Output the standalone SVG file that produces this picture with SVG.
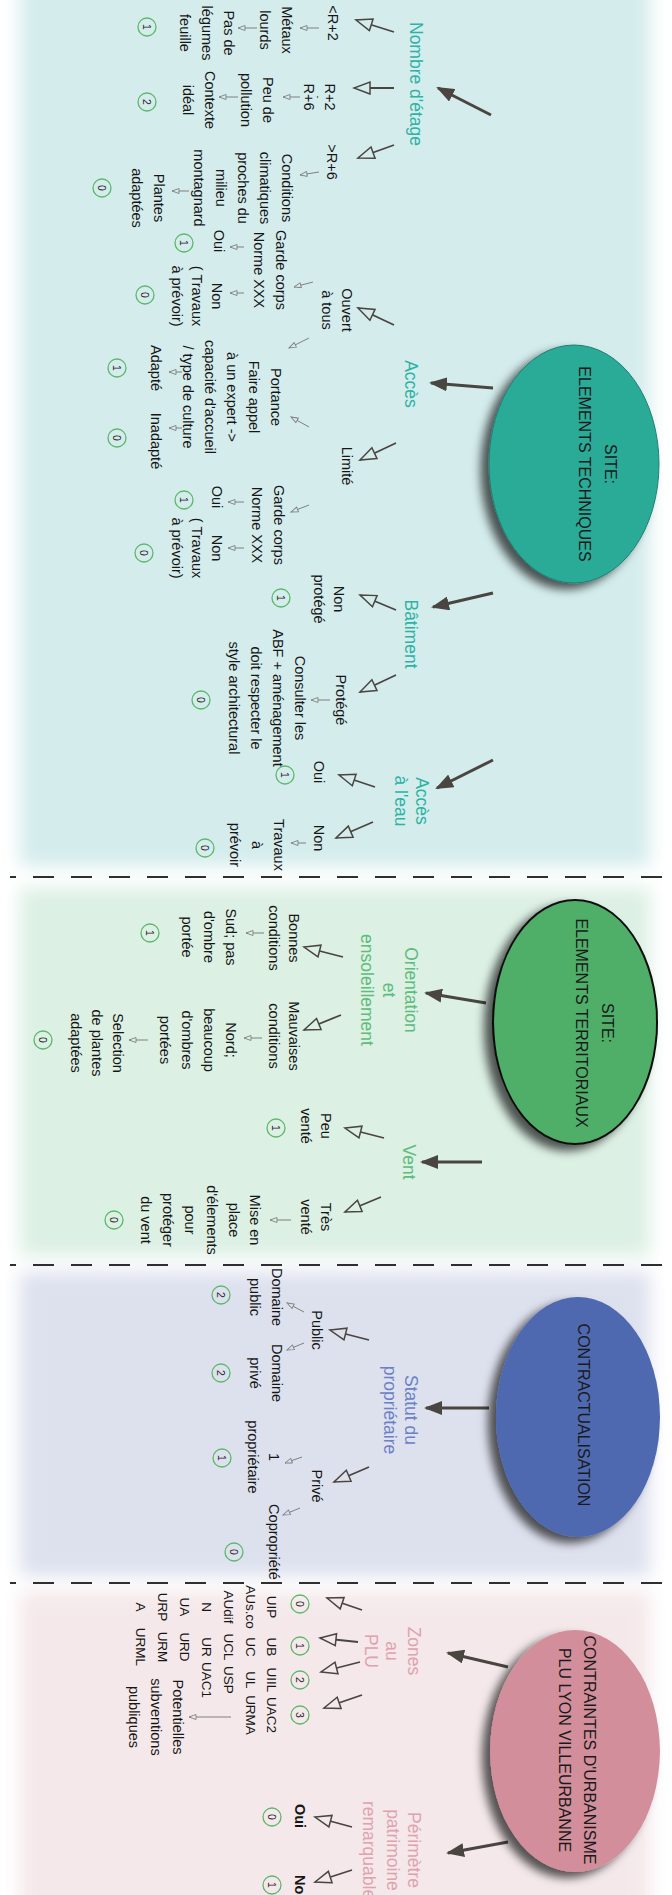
<svg xmlns="http://www.w3.org/2000/svg" width="672" height="1895" viewBox="0 0 672 1895">
<defs>
<style>
text{font-family:"Liberation Sans",Arial,sans-serif;text-anchor:middle}
.t{font-family:"Liberation Sans Narrow","Liberation Sans",Arial,sans-serif;font-size:14.5px;fill:#161616}
.z{font-family:"Liberation Sans Narrow","Liberation Sans",Arial,sans-serif;font-size:13.5px;fill:#161616}
.cat{font-size:17.5px}
.ct{fill:#2db3a4}.cg{fill:#5dbd7c}.cb{fill:#6c80c6}.cp{fill:#e0a2ae}
.el{font-size:16px;fill:#1a1a1a}
.num{font-size:10.5px;fill:#1e1e1e}
.sc{fill:none;stroke:#5cb86a;stroke-width:1.3}
.big{stroke:#4a4540;stroke-width:3;fill:none;marker-end:url(#mb)}
.hol{stroke:#4a4540;stroke-width:1.8;fill:none}
.sm{stroke:#808080;stroke-width:1;fill:none}
.dash{stroke:#2f2f2f;stroke-width:2;stroke-dasharray:21 17}
</style>
<filter id="soft" x="-10%" y="-10%" width="120%" height="120%"><feGaussianBlur stdDeviation="9"/></filter>
<filter id="sh" x="-20%" y="-20%" width="150%" height="150%"><feGaussianBlur in="SourceAlpha" stdDeviation="5"/><feOffset dx="6" dy="8" result="b"/><feFlood flood-color="#000" flood-opacity="0.65"/><feComposite in2="b" operator="in"/><feMerge><feMergeNode/><feMergeNode in="SourceGraphic"/></feMerge></filter>
<marker id="mb" viewBox="0 0 18 14" refX="16" refY="7" markerWidth="18" markerHeight="14" markerUnits="userSpaceOnUse" orient="auto"><path d="M0,0 L18,7 L0,14 z" fill="#4a4540"/></marker>
<marker id="hT" viewBox="-2 -2 20 16" refX="16" refY="6" markerWidth="20" markerHeight="16" markerUnits="userSpaceOnUse" orient="auto"><path d="M0,0 L16,6 L0,12 z" fill="#d4ecec" stroke="#4a4540" stroke-width="1.5"/></marker>
<marker id="hG" viewBox="-2 -2 20 16" refX="16" refY="6" markerWidth="20" markerHeight="16" markerUnits="userSpaceOnUse" orient="auto"><path d="M0,0 L16,6 L0,12 z" fill="#dcf0e4" stroke="#4a4540" stroke-width="1.5"/></marker>
<marker id="hB" viewBox="-2 -2 20 16" refX="16" refY="6" markerWidth="20" markerHeight="16" markerUnits="userSpaceOnUse" orient="auto"><path d="M0,0 L16,6 L0,12 z" fill="#dde1ee" stroke="#4a4540" stroke-width="1.5"/></marker>
<marker id="hP" viewBox="-2 -2 20 16" refX="16" refY="6" markerWidth="20" markerHeight="16" markerUnits="userSpaceOnUse" orient="auto"><path d="M0,0 L16,6 L0,12 z" fill="#f4e8ea" stroke="#4a4540" stroke-width="1.5"/></marker>
<marker id="sT" viewBox="-1 -1 9 7" refX="7" refY="2.5" markerWidth="9" markerHeight="7" markerUnits="userSpaceOnUse" orient="auto"><path d="M0,0 L7,2.5 L0,5 z" fill="#d4ecec" stroke="#808080" stroke-width="0.9"/></marker>
<marker id="sG" viewBox="-1 -1 9 7" refX="7" refY="2.5" markerWidth="9" markerHeight="7" markerUnits="userSpaceOnUse" orient="auto"><path d="M0,0 L7,2.5 L0,5 z" fill="#dcf0e4" stroke="#808080" stroke-width="0.9"/></marker>
<marker id="sB" viewBox="-1 -1 9 7" refX="7" refY="2.5" markerWidth="9" markerHeight="7" markerUnits="userSpaceOnUse" orient="auto"><path d="M0,0 L7,2.5 L0,5 z" fill="#dde1ee" stroke="#808080" stroke-width="0.9"/></marker>
<marker id="sP" viewBox="-1 -1 9 7" refX="7" refY="2.5" markerWidth="9" markerHeight="7" markerUnits="userSpaceOnUse" orient="auto"><path d="M0,0 L7,2.5 L0,5 z" fill="#f4e8ea" stroke="#808080" stroke-width="0.9"/></marker>
</defs>
<rect width="672" height="1895" fill="#ffffff"/>
<g transform="translate(672,0) rotate(90)">
<g id="backgrounds">
<rect x="-30" y="22" width="896" height="630" fill="#d4ecec" filter="url(#soft)"/>
<rect x="888" y="22" width="368" height="630" fill="#dcf0e4" filter="url(#soft)"/>
<rect x="1272" y="22" width="304" height="630" fill="#dde1ee" filter="url(#soft)"/>
<rect x="1592" y="22" width="330" height="630" fill="#f4e8ea" filter="url(#soft)"/>
<line class="dash" x1="877" y1="10" x2="877" y2="662"/>
<line class="dash" x1="1265" y1="10" x2="1265" y2="662"/>
<line class="dash" x1="1583" y1="10" x2="1583" y2="662"/>
</g>

<g id="connectors">
<line class="big" x1="115" y1="181" x2="88" y2="234"/>
<line class="big" x1="388" y1="179" x2="383" y2="241"/>
<line class="big" x1="593" y1="179" x2="607" y2="239"/>
<line class="big" x1="760" y1="179" x2="788" y2="235"/>
<line class="big" x1="1003" y1="186" x2="993" y2="246"/>
<line class="big" x1="1162" y1="190" x2="1162" y2="250"/>
<line class="big" x1="1408" y1="183" x2="1408" y2="246"/>
<line class="big" x1="1667" y1="164" x2="1653" y2="224"/>
<line class="big" x1="1842" y1="164" x2="1853" y2="224"/>

<g marker-end="url(#hT)" class="hol">
<line x1="32" y1="278" x2="20" y2="316"/>
<line x1="88" y1="278" x2="88" y2="318"/>
<line x1="145" y1="278" x2="158" y2="314"/>
<line x1="325" y1="278" x2="308" y2="314"/>
<line x1="443" y1="276" x2="460" y2="312"/>
<line x1="610" y1="276" x2="595" y2="312"/>
<line x1="675" y1="276" x2="692" y2="312"/>
<line x1="787" y1="297" x2="775" y2="333"/>
<line x1="822" y1="299" x2="838" y2="336"/>
</g>
<g marker-end="url(#hG)" class="hol">
<line x1="957" y1="329" x2="947" y2="368"/>
<line x1="1015" y1="331" x2="1030" y2="368"/>
<line x1="1138" y1="288" x2="1128" y2="327"/>
<line x1="1197" y1="291" x2="1212" y2="327"/>
</g>
<g marker-end="url(#hB)" class="hol">
<line x1="1340" y1="303" x2="1330" y2="342"/>
<line x1="1467" y1="303" x2="1482" y2="338"/>
</g>
<g marker-end="url(#hP)" class="hol">
<line x1="1610" y1="310" x2="1598" y2="345"/>
<line x1="1642" y1="314" x2="1638" y2="352"/>
<line x1="1662" y1="312" x2="1672" y2="351"/>
<line x1="1695" y1="310" x2="1708" y2="348"/>
<line x1="1827" y1="320" x2="1817" y2="357"/>
<line x1="1870" y1="320" x2="1882" y2="357"/>
</g>

<g marker-end="url(#sT)" class="sm">
<line x1="28" y1="353" x2="28" y2="372"/>
<line x1="28" y1="415" x2="28" y2="434"/>
<line x1="97" y1="372" x2="97" y2="389"/>
<line x1="97" y1="434" x2="97" y2="453"/>
<line x1="172" y1="353" x2="175" y2="372"/>
<line x1="191" y1="483" x2="191" y2="500"/>
<line x1="282" y1="359" x2="287" y2="378"/>
<line x1="338" y1="363" x2="348" y2="383"/>
<line x1="427" y1="363" x2="417" y2="381"/>
<line x1="247" y1="428" x2="247" y2="442"/>
<line x1="293" y1="428" x2="293" y2="442"/>
<line x1="372" y1="490" x2="372" y2="503"/>
<line x1="428" y1="490" x2="428" y2="503"/>
<line x1="505" y1="363" x2="512" y2="381"/>
<line x1="502" y1="428" x2="502" y2="444"/>
<line x1="548" y1="428" x2="548" y2="444"/>
<line x1="700" y1="342" x2="700" y2="361"/>
<line x1="843" y1="366" x2="843" y2="381"/>
</g>
<g marker-end="url(#sG)" class="sm">
<line x1="933" y1="408" x2="933" y2="426"/>
<line x1="1038" y1="410" x2="1038" y2="428"/>
<line x1="1040" y1="524" x2="1040" y2="543"/>
<line x1="1220" y1="381" x2="1220" y2="402"/>
</g>
<g marker-end="url(#sB)" class="sm">
<line x1="1312" y1="368" x2="1303" y2="385"/>
<line x1="1343" y1="368" x2="1350" y2="385"/>
<line x1="1457" y1="370" x2="1463" y2="387"/>
<line x1="1508" y1="372" x2="1515" y2="389"/>
</g>
<g marker-end="url(#sP)" class="sm">
<line x1="1717" y1="441" x2="1717" y2="483"/>
</g>
</g>

<!-- Section 1 -->
<g id="n-site-tech"><ellipse cx="464" cy="98" rx="119" ry="85" fill="#2aab97" stroke="#1f7f70" stroke-width="1" filter="url(#sh)"/>
<text class="el"><tspan x="464" y="67">SITE:</tspan><tspan x="464" y="93">ELEMENTS TECHNIQUES</tspan></text></g>
<g id="n-nombre"><text class="cat ct" x="84" y="262">Nombre d'étage</text></g>
<g id="n-lt2"><text class="t" x="23" y="344">&lt;R+2</text></g>
<g id="n-r2r6"><text class="t"><tspan x="97" y="347">R+2</tspan><tspan x="97" y="357" style="font-size:9px">-</tspan><tspan x="97" y="368">R+6</tspan></text></g>
<g id="n-gt6"><text class="t" x="162" y="345">&gt;R+6</text></g>
<g id="n-metaux"><text class="t"><tspan x="30" y="390">Métaux</tspan><tspan x="30" y="412">lourds</tspan></text></g>
<g id="n-pasde"><text class="t"><tspan x="33" y="448">Pas de</tspan><tspan x="33" y="470">légumes</tspan><tspan x="33" y="492">feuille</tspan></text></g>
<g id="s-1a"><circle class="sc" cx="27" cy="525" r="9"/><text class="num" x="27" y="528.7">1</text></g>
<g id="n-peu"><text class="t"><tspan x="100" y="409">Peu de</tspan><tspan x="100" y="431">pollution</tspan></text></g>
<g id="n-contexte"><text class="t"><tspan x="100" y="467">Contexte</tspan><tspan x="100" y="489">idéal</tspan></text></g>
<g id="s-1b"><circle class="sc" cx="102" cy="525" r="9"/><text class="num" x="102" y="528.7">2</text></g>
<g id="n-conditions"><text class="t"><tspan x="188" y="390">Conditions</tspan><tspan x="188" y="412">climatiques</tspan><tspan x="188" y="434">proches du</tspan><tspan x="188" y="456">milieu</tspan><tspan x="188" y="478">montagnard</tspan></text></g>
<g id="n-plantes"><text class="t"><tspan x="198" y="518">Plantes</tspan><tspan x="198" y="540">adaptées</tspan></text></g>
<g id="s-1c"><circle class="sc" cx="188" cy="570" r="9"/><text class="num" x="188" y="573.7">0</text></g>

<g id="n-acces"><text class="cat ct" x="384" y="267">Accès</text></g>
<g id="n-ouvert"><text class="t"><tspan x="310" y="330">Ouvert</tspan><tspan x="310" y="350">à tous</tspan></text></g>
<g id="n-garde1"><text class="t"><tspan x="270" y="396">Garde corps</tspan><tspan x="270" y="418">Norme XXX</tspan></text></g>
<g id="n-oui1"><text class="t" x="241" y="458">Oui</text></g>
<g id="s-2a"><circle class="sc" cx="243" cy="488" r="9"/><text class="num" x="243" y="491.7">1</text></g>
<g id="n-non1"><text class="t"><tspan x="296" y="460">Non</tspan><tspan x="296" y="480">( Travaux</tspan><tspan x="296" y="500">à prévoir)</tspan></text></g>
<g id="s-2b"><circle class="sc" cx="295" cy="527" r="9"/><text class="num" x="295" y="530.7">0</text></g>
<g id="n-portance"><text class="t"><tspan x="397" y="401">Portance</tspan><tspan x="397" y="423">Faire appel</tspan><tspan x="397" y="445">à un expert -&gt;</tspan><tspan x="397" y="467">capacité d'accueil</tspan><tspan x="397" y="489">/ type de culture</tspan></text></g>
<g id="n-adapte"><text class="t" x="368" y="521">Adapté</text></g>
<g id="n-inadapte"><text class="t" x="441" y="521">Inadapté</text></g>
<g id="s-2c"><circle class="sc" cx="368" cy="555" r="9"/><text class="num" x="368" y="558.7">1</text></g>
<g id="s-2d"><circle class="sc" cx="438" cy="555" r="9"/><text class="num" x="438" y="558.7">0</text></g>
<g id="n-limite"><text class="t" x="466" y="330">Limité</text></g>
<g id="n-garde2"><text class="t"><tspan x="525" y="398">Garde corps</tspan><tspan x="525" y="420">Norme XXX</tspan></text></g>
<g id="n-oui2"><text class="t" x="497" y="460">Oui</text></g>
<g id="s-2e"><circle class="sc" cx="500" cy="488" r="9"/><text class="num" x="500" y="491.7">1</text></g>
<g id="n-non2"><text class="t"><tspan x="548" y="460">Non</tspan><tspan x="548" y="480">( Travaux</tspan><tspan x="548" y="500">à prévoir)</tspan></text></g>
<g id="s-2f"><circle class="sc" cx="553" cy="528" r="9"/><text class="num" x="553" y="531.7">0</text></g>

<g id="n-batiment"><text class="cat ct" x="634" y="267">Bâtiment</text></g>
<g id="n-nonprotege"><text class="t"><tspan x="599" y="338">Non</tspan><tspan x="599" y="358">protégé</tspan></text></g>
<g id="s-3a"><circle class="sc" cx="598" cy="391" r="9"/><text class="num" x="598" y="394.7">1</text></g>
<g id="n-protege"><text class="t" x="700" y="336">Protégé</text></g>
<g id="n-consulter"><text class="t"><tspan x="698" y="377">Consulter les</tspan><tspan x="698" y="399">ABF + aménagement</tspan><tspan x="698" y="421">doit respecter le</tspan><tspan x="698" y="443">style architectural</tspan></text></g>
<g id="s-3b"><circle class="sc" cx="700" cy="471" r="9"/><text class="num" x="700" y="474.7">0</text></g>

<g id="n-eau"><text class="cat ct"><tspan x="801" y="256">Accès</tspan><tspan x="801" y="277">à l'eau</tspan></text></g>
<g id="n-oui3"><text class="t" x="772" y="358">Oui</text></g>
<g id="s-4a"><circle class="sc" cx="775" cy="387" r="9"/><text class="num" x="775" y="390.7">1</text></g>
<g id="n-non3"><text class="t" x="838" y="358">Non</text></g>
<g id="n-travaux"><text class="t"><tspan x="845" y="398">Travaux</tspan><tspan x="845" y="420">à</tspan><tspan x="845" y="442">prévoir</tspan></text></g>
<g id="s-4b"><circle class="sc" cx="848" cy="467" r="9"/><text class="num" x="848" y="470.7">0</text></g>

<!-- Section 2 -->
<g id="n-site-terr"><ellipse cx="1022" cy="97" rx="122" ry="82" fill="#4faf69" stroke="#111" stroke-width="2" filter="url(#sh)"/>
<text class="el"><tspan x="1023" y="70">SITE:</tspan><tspan x="1023" y="96">ELEMENTS TERRITORIAUX</tspan></text></g>
<g id="n-orientation"><text class="cat cg"><tspan x="990" y="267">Orientation</tspan><tspan x="990" y="289">et</tspan><tspan x="990" y="311">ensoleillement</tspan></text></g>
<g id="n-bonnes"><text class="t"><tspan x="938" y="383">Bonnes</tspan><tspan x="938" y="403">conditions</tspan></text></g>
<g id="n-sud"><text class="t"><tspan x="937" y="446">Sud; pas</tspan><tspan x="937" y="468">d'ombre</tspan><tspan x="937" y="490">portée</tspan></text></g>
<g id="s-5a"><circle class="sc" cx="933" cy="522" r="9"/><text class="num" x="933" y="525.7">1</text></g>
<g id="n-mauvaises"><text class="t"><tspan x="1036" y="383">Mauvaises</tspan><tspan x="1036" y="403">conditions</tspan></text></g>
<g id="n-nord"><text class="t"><tspan x="1040" y="446">Nord;</tspan><tspan x="1040" y="468">beaucoup</tspan><tspan x="1040" y="490">d'ombres</tspan><tspan x="1040" y="512">portées</tspan></text></g>
<g id="n-selection"><text class="t"><tspan x="1043" y="559">Selection</tspan><tspan x="1043" y="580">de plantes</tspan><tspan x="1043" y="601">adaptées</tspan></text></g>
<g id="s-5b"><circle class="sc" cx="1040" cy="629" r="9"/><text class="num" x="1040" y="632.7">0</text></g>
<g id="n-vent"><text class="cat cg" x="1162" y="269">Vent</text></g>
<g id="n-peuvente"><text class="t"><tspan x="1126" y="351">Peu</tspan><tspan x="1126" y="371">venté</tspan></text></g>
<g id="s-6a"><circle class="sc" cx="1128" cy="396" r="9"/><text class="num" x="1128" y="399.7">1</text></g>
<g id="n-tresvente"><text class="t"><tspan x="1217" y="351">Très</tspan><tspan x="1217" y="371">venté</tspan></text></g>
<g id="n-mise"><text class="t"><tspan x="1220" y="422">Mise en</tspan><tspan x="1220" y="443">place</tspan><tspan x="1220" y="465">d'élements</tspan><tspan x="1220" y="487">pour</tspan><tspan x="1220" y="509">protéger</tspan><tspan x="1220" y="531">du vent</tspan></text></g>
<g id="s-6b"><circle class="sc" cx="1220" cy="558" r="9"/><text class="num" x="1220" y="561.7">0</text></g>

<!-- Section 3 -->
<g id="n-contract"><ellipse cx="1417" cy="94" rx="120" ry="82" fill="#5069b0" filter="url(#sh)"/>
<text class="el" x="1415" y="94">CONTRACTUALISATION</text></g>
<g id="n-statut"><text class="cat cb"><tspan x="1410" y="267">Statut du</tspan><tspan x="1410" y="288">propriétaire</tspan></text></g>
<g id="n-public"><text class="t" x="1330" y="360">Public</text></g>
<g id="n-dompublic"><text class="t"><tspan x="1297" y="400">Domaine</tspan><tspan x="1297" y="422">public</tspan></text></g>
<g id="s-7a"><circle class="sc" cx="1295" cy="451" r="9"/><text class="num" x="1295" y="454.7">2</text></g>
<g id="n-domprive"><text class="t"><tspan x="1373" y="400">Domaine</tspan><tspan x="1373" y="422">privé</tspan></text></g>
<g id="s-7b"><circle class="sc" cx="1373" cy="451" r="9"/><text class="num" x="1373" y="454.7">2</text></g>
<g id="n-prive"><text class="t" x="1486" y="360">Privé</text></g>
<g id="n-unprop"><text class="t"><tspan x="1457" y="403">1</tspan><tspan x="1457" y="424">propriétaire</tspan></text></g>
<g id="s-7c"><circle class="sc" cx="1458" cy="450" r="9"/><text class="num" x="1458" y="453.7">1</text></g>
<g id="n-copro"><text class="t" x="1542" y="403">Copropriété</text></g>
<g id="s-7d"><circle class="sc" cx="1552" cy="438" r="9"/><text class="num" x="1552" y="441.7">0</text></g>

<!-- Section 4 -->
<g id="n-plu"><ellipse cx="1751" cy="97" rx="121" ry="85" fill="#d38e9b" filter="url(#sh)"/>
<text class="el"><tspan x="1750" y="88">CONTRAINTES D'URBANISME</tspan><tspan x="1750" y="113">PLU LYON VILLEURBANNE</tspan></text></g>
<g id="n-zones"><text class="cat cp"><tspan x="1651" y="264">Zones</tspan><tspan x="1651" y="286">au</tspan><tspan x="1651" y="307">PLU</tspan></text></g>
<g id="s-8a"><circle class="sc" cx="1604" cy="372" r="9"/><text class="num" x="1604" y="375.7">0</text></g>
<g id="s-8b"><circle class="sc" cx="1646" cy="372" r="9"/><text class="num" x="1646" y="375.7">1</text></g>
<g id="s-8c"><circle class="sc" cx="1680" cy="372" r="9"/><text class="num" x="1680" y="375.7">2</text></g>
<g id="s-8d"><circle class="sc" cx="1715" cy="372" r="9"/><text class="num" x="1715" y="375.7">3</text></g>
<g id="n-zone0"><text class="z"><tspan x="1607" y="405">UIP</tspan><tspan x="1607" y="426">AUs.co</tspan><tspan x="1607" y="448">AUdif</tspan><tspan x="1607" y="470">N</tspan><tspan x="1607" y="492">UA</tspan><tspan x="1607" y="514">URP</tspan><tspan x="1607" y="536">A</tspan></text></g>
<g id="n-zone1"><text class="z"><tspan x="1647" y="405">UB</tspan><tspan x="1647" y="426">UC</tspan><tspan x="1647" y="448">UCL</tspan><tspan x="1647" y="470">UR</tspan><tspan x="1647" y="492">URD</tspan><tspan x="1647" y="514">URM</tspan><tspan x="1647" y="536">URML</tspan></text></g>
<g id="n-zone2"><text class="z"><tspan x="1680" y="405">UIIL</tspan><tspan x="1680" y="426">UL</tspan><tspan x="1680" y="448">USP</tspan><tspan x="1680" y="470">UAC1</tspan></text></g>
<g id="n-zone3"><text class="z"><tspan x="1715" y="405">UAC2</tspan><tspan x="1715" y="426">URMA</tspan></text></g>
<g id="n-subv"><text class="t"><tspan x="1717" y="499">Potentielles</tspan><tspan x="1717" y="521">subventions</tspan><tspan x="1717" y="543">publiques</tspan></text></g>
<g id="n-perimetre"><text class="cat cp"><tspan x="1850" y="264">Périmètre</tspan><tspan x="1850" y="285">patrimoine</tspan><tspan x="1850" y="309">remarquable</tspan></text></g>
<g id="n-oui4"><text class="t" x="1816" y="377" font-weight="bold">Oui</text></g>
<g id="s-9a"><circle class="sc" cx="1817" cy="400" r="9"/><text class="num" x="1817" y="403.7">0</text></g>
<g id="n-non4"><text class="t" x="1875" y="377" font-weight="bold" style="text-anchor:start">Non</text></g>
<g id="s-9b"><circle class="sc" cx="1885" cy="400" r="9"/><text class="num" x="1885" y="403.7">1</text></g>
</g>
</svg>
